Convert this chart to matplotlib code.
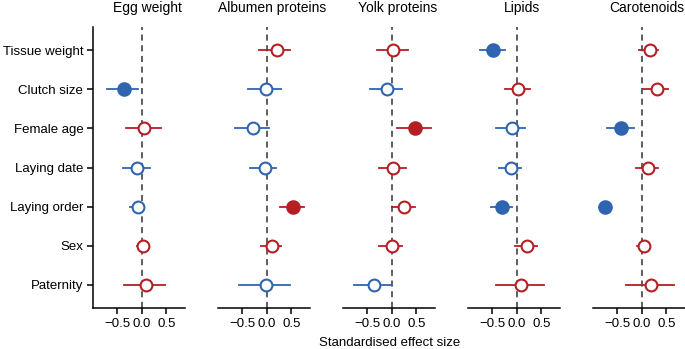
import matplotlib
matplotlib.use("Agg")
import matplotlib.pyplot as plt
import numpy as np

plt.rcParams["font.family"] = ["Liberation Sans", "DejaVu Sans"]

PREDICTORS = ["Tissue weight", "Clutch size", "Female age", "Laying date",
              "Laying order", "Sex", "Paternity"]
TRAITS = ["Egg weight", "Albumen proteins", "Yolk proteins", "Lipids", "Carotenoids"]

# estimates, lower and upper CI; nan = not estimated
egg_est = [np.nan, -0.37, 0.05, -0.11, -0.08, 0.03, 0.08]
egg_lo = [np.nan, -0.71, -0.33, -0.39, -0.24, -0.11, -0.37]
egg_hi = [np.nan, -0.08, 0.38, 0.16, 0.04, 0.12, 0.48]

alb_est = [0.20, -0.02, -0.28, -0.04, 0.54, 0.11, -0.02]
alb_lo = [-0.16, -0.38, -0.65, -0.35, 0.27, -0.12, -0.57]
alb_hi = [0.48, 0.29, 0.04, 0.19, 0.76, 0.28, 0.48]

yolk_est = [0.02, -0.11, 0.48, 0.03, 0.25, 0.00, -0.36]
yolk_lo = [-0.31, -0.44, 0.10, -0.27, 0.00, -0.26, -0.78]
yolk_hi = [0.32, 0.20, 0.80, 0.29, 0.47, 0.21, 0.00]

lip_est = [-0.48, 0.03, -0.10, -0.12, -0.31, 0.21, 0.09]
lip_lo = [-0.75, -0.25, -0.42, -0.37, -0.54, -0.03, -0.42]
lip_hi = [-0.24, 0.26, 0.17, 0.09, -0.10, 0.41, 0.56]

car_est = [0.16, 0.31, -0.42, 0.12, -0.75, 0.05, 0.19]
car_lo = [-0.05, 0.03, -0.71, -0.13, -0.88, -0.10, -0.32]
car_hi = [0.33, 0.54, -0.16, 0.32, -0.63, 0.12, 0.65]

# significant (filled) flags
egg_sig = [False, True, False, False, False, False, False]
alb_sig = [False, False, False, False, True, False, False]
yolk_sig = [False, False, True, False, False, False, False]
lip_sig = [True, False, False, False, True, False, False]
car_sig = [False, False, True, False, True, False, False]

panels = [
    (egg_est, egg_lo, egg_hi, egg_sig),
    (alb_est, alb_lo, alb_hi, alb_sig),
    (yolk_est, yolk_lo, yolk_hi, yolk_sig),
    (lip_est, lip_lo, lip_hi, lip_sig),
    (car_est, car_lo, car_hi, car_sig),
]

BLUE = "#2f64b1"
RED = "#b51f24"

fig = plt.figure(figsize=(6.85, 3.49), dpi=100)
rows = np.arange(1, len(PREDICTORS) + 1)

for k, (title, (est, lo, hi, sig)) in enumerate(zip(TRAITS, panels)):
    left = (93 + 125 * k) / 685
    ax = fig.add_axes([left, 0.117, 92 / 685, 0.806])
    ax.axvline(0, color="#333333", lw=1.1, ls=(0, (4, 3)), zorder=1)
    for y, e, l, h, s in zip(rows, est, lo, hi, sig):
        if np.isnan(e):
            continue
        c = BLUE if e < 0 else RED
        ax.plot([l, h], [y, y], color=c, lw=1.3, zorder=2)
        ax.plot(e, y, "o", ms=8.5 if not s else 9, mec=c, mew=1.5,
                mfc=c if s else "white", zorder=3)
    ax.set_xlim(-1.0, 0.88)
    ax.set_ylim(7.6, 0.4)
    ax.set_xticks([-0.5, 0.0, 0.5])
    ax.set_xticklabels(["\u22120.5", "0.0", "0.5"])
    ax.set_title(title, fontsize=10, pad=11, x=0.59)
    for sp in ["top", "right"]:
        ax.spines[sp].set_visible(False)
    ax.spines["bottom"].set_linewidth(1.1)
    ax.tick_params(axis="x", labelsize=9.5, length=4, width=1.1, pad=3)
    if k == 0:
        ax.set_yticks(rows)
        ax.set_yticklabels(PREDICTORS)
        ax.spines["left"].set_linewidth(1.1)
        ax.tick_params(axis="y", labelsize=9.5, length=4, width=1.1, pad=3)
    else:
        ax.spines["left"].set_visible(False)
        ax.set_yticks([])

fig.text(390 / 685, 1 - 343 / 349, "Standardised effect size", ha="center",
         va="center", fontsize=9.5)

fig.savefig("out.png", dpi=100)
